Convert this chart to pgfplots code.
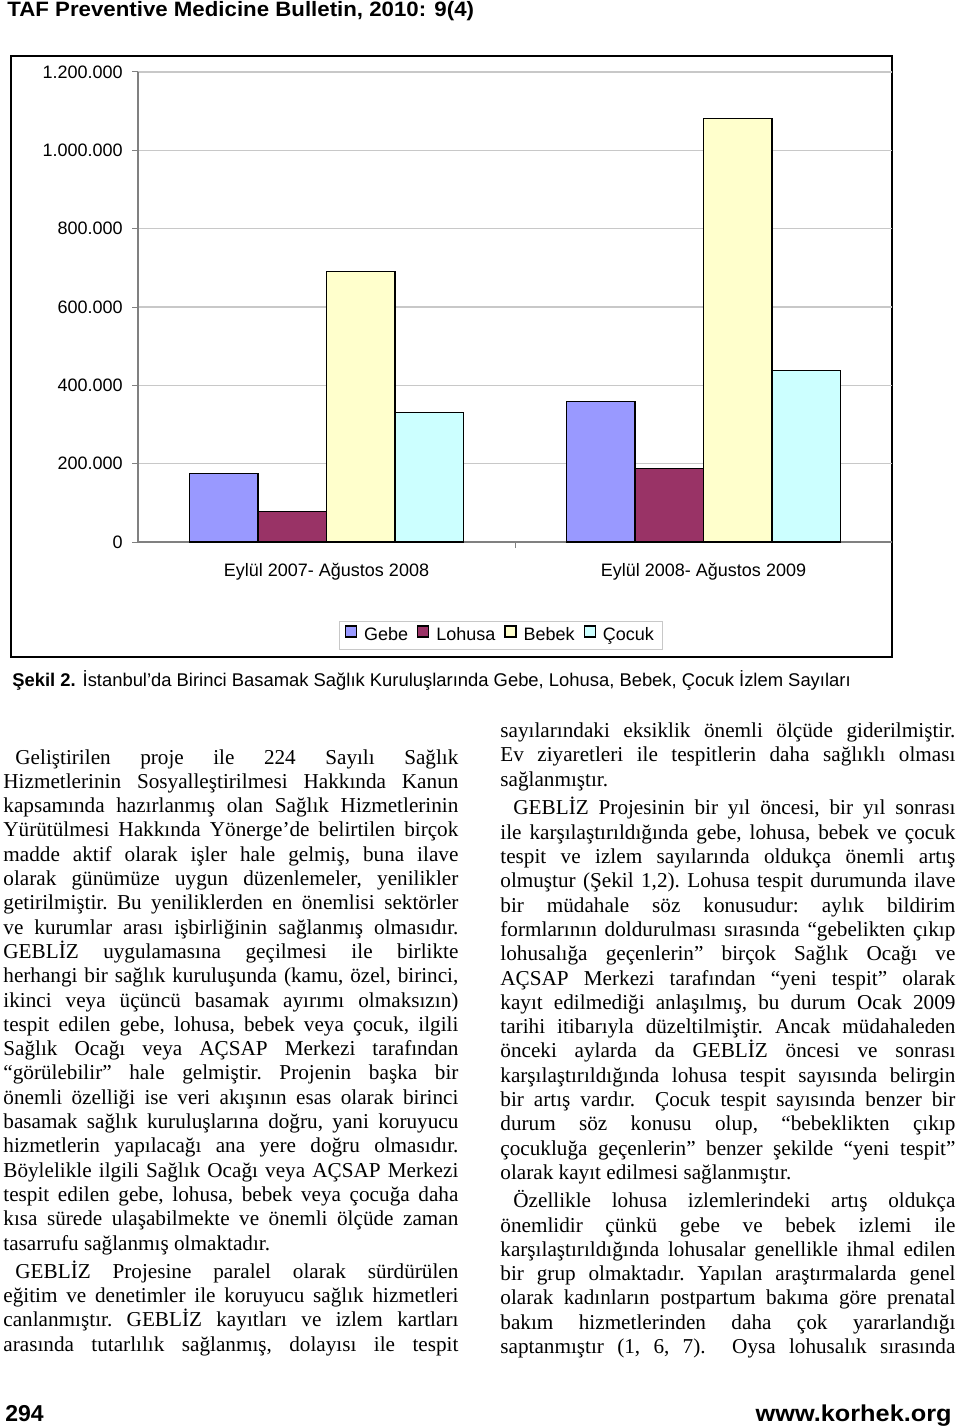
\documentclass[border=0pt]{standalone}
\usepackage{fontspec}
\setmainfont{Liberation Serif}
\newfontfamily\arial{Liberation Sans}
\usepackage{pgfplots}
\pgfplotsset{compat=1.18}

\newdimen\px \px=0.5pt
\definecolor{gebe}{HTML}{9999FF}
\definecolor{lohusa}{HTML}{993366}
\definecolor{bebek}{HTML}{FFFFCC}
\definecolor{cocuk}{HTML}{CCFFFF}
\definecolor{gridgray}{HTML}{C8C8C8}
\definecolor{axgray}{HTML}{808080}

\newcommand\body{\fontsize{10.6}{12}\selectfont\frenchspacing}
\newcommand\chartfont{\arial\fontsize{9}{10.8}\selectfont}
\newcommand\pitch{24.3}
% justified line: x, width, base, line index, text
\newcommand\J[5]{\node[anchor=base west,inner sep=0pt,font=\body] at (#1,{-(#3+(#4)*\pitch)}) {\makebox[#2\px][s]{#5}};}
% last line of a paragraph: x, base, line index, text
\newcommand\Rg[4]{\node[anchor=base west,inner sep=0pt,font=\body] at (#1,{-(#2+(#3)*\pitch)}) {#4};}

\begin{document}
\begin{tikzpicture}[x=0.5pt,y=0.5pt]
\path[use as bounding box] (0,0) rectangle (960,-1428);

% header
\node[anchor=base west,inner sep=0pt,font=\arial\bfseries\fontsize{10.4}{12}\selectfont] at (7,-17) {\scalebox{1.07}[1]{TAF Preventive Medicine Bulletin, 2010: 9(4)}};

% chart frame
\draw[line width=1.3\px] (11,-56) rectangle (892,-657);

\begin{axis}[
  at={(69pt,-271pt)}, anchor=south west,
  scale only axis, width=377pt, height=235pt,
  xmin=-0.5, xmax=1.5, ymin=0, ymax=1200000,
  axis x line*=bottom, axis y line*=left,
  axis line style={draw=axgray, line width=1.2\px, -},
  xtick={0,1},
  xticklabels={Eylül 2007- Ağustos 2008, Eylül 2008- Ağustos 2009},
  minor xtick={0.5},
  major x tick style={draw=none},
  minor x tick style={draw=axgray, line width=1\px},
  ytick={0,200000,400000,600000,800000,1000000,1200000},
  yticklabels={0,200.000,400.000,600.000,800.000,1.000.000,1.200.000},
  scaled y ticks=false,
  ymajorgrids,
  grid style={draw=gridgray, line width=1.2\px},
  major y tick style={draw=axgray, line width=1\px},
  tick align=outside, major tick length=6\px, minor tick length=6\px,
  tick label style={font=\chartfont},
  yticklabel style={anchor=east, inner sep=0pt, xshift=-9\px},
  xticklabel style={anchor=base, inner sep=0pt, yshift=-28\px},
  legend columns=4,
  legend style={at={(axis description cs:0.482,-0.198)}, anchor=center,
    draw=gridgray, line width=1\px, font=\chartfont,
    inner xsep=5\px, inner ysep=2\px,
    /tikz/every odd column/.append style={column sep=3\px},
    /tikz/every even column/.append style={column sep=5\px}},
  legend image code/.code={\draw[#1] (0pt,-1pt) rectangle (5.5pt,4.5pt);},
]
\addplot[ybar, bar width=0.1817, bar shift=-0.2725, fill=gebe, draw=black, line width=1.2\px]
  coordinates {(0,174000) (1,359000)};
\addplot[ybar, bar width=0.1817, bar shift=-0.0908, fill=lohusa, draw=black, line width=1.2\px]
  coordinates {(0,78000) (1,188000)};
\addplot[ybar, bar width=0.1817, bar shift=0.0908, fill=bebek, draw=black, line width=1.2\px]
  coordinates {(0,691000) (1,1082000)};
\addplot[ybar, bar width=0.1817, bar shift=0.2725, fill=cocuk, draw=black, line width=1.2\px]
  coordinates {(0,331000) (1,438000)};
\legend{Gebe, Lohusa, Bebek, Çocuk}
\end{axis}

% caption
\node[anchor=base west,inner sep=0pt,font=\arial\fontsize{9.2}{11}\selectfont] at (12,-686)
  {\textbf{Şekil 2.} İstanbul’da Birinci Basamak Sağlık Kuruluşlarında Gebe, Lohusa, Bebek, Çocuk İzlem Sayıları};

% left column
\J{15}{443}{764}{0}{Geliştirilen proje ile 224 Sayılı Sağlık}
\J{3}{455}{764}{1}{Hizmetlerinin Sosyalleştirilmesi Hakkında Kanun}
\J{3}{455}{764}{2}{kapsamında hazırlanmış olan Sağlık Hizmetlerinin}
\J{3}{455}{764}{3}{Yürütülmesi Hakkında Yönerge’de belirtilen birçok}
\J{3}{455}{764}{4}{madde aktif olarak işler hale gelmiş, buna ilave}
\J{3}{455}{764}{5}{olarak günümüze uygun düzenlemeler, yenilikler}
\J{3}{455}{764}{6}{getirilmiştir. Bu yeniliklerden en önemlisi sektörler}
\J{3}{455}{764}{7}{ve kurumlar arası işbirliğinin sağlanmış olmasıdır.}
\J{3}{455}{764}{8}{GEBLİZ uygulamasına geçilmesi ile birlikte}
\J{3}{455}{764}{9}{herhangi bir sağlık kuruluşunda (kamu, özel, birinci,}
\J{3}{455}{764}{10}{ikinci veya üçüncü basamak ayırımı olmaksızın)}
\J{3}{455}{764}{11}{tespit edilen gebe, lohusa, bebek veya çocuk, ilgili}
\J{3}{455}{764}{12}{Sağlık Ocağı veya AÇSAP Merkezi tarafından}
\J{3}{455}{764}{13}{“görülebilir” hale gelmiştir. Projenin başka bir}
\J{3}{455}{764}{14}{önemli özelliği ise veri akışının esas olarak birinci}
\J{3}{455}{764}{15}{basamak sağlık kuruluşlarına doğru, yani koruyucu}
\J{3}{455}{764}{16}{hizmetlerin yapılacağı ana yere doğru olmasıdır.}
\J{3}{455}{764}{17}{Böylelikle ilgili Sağlık Ocağı veya AÇSAP Merkezi}
\J{3}{455}{764}{18}{tespit edilen gebe, lohusa, bebek veya çocuğa daha}
\J{3}{455}{764}{19}{kısa sürede ulaşabilmekte ve önemli ölçüde zaman}
\Rg{3}{764}{20}{tasarrufu sağlanmış olmaktadır.}
\J{15}{443}{768}{21}{GEBLİZ Projesine paralel olarak sürdürülen}
\J{3}{455}{768}{22}{eğitim ve denetimler ile koruyucu sağlık hizmetleri}
\J{3}{455}{768}{23}{canlanmıştır. GEBLİZ kayıtları ve izlem kartları}
\J{3}{455}{768}{24}{arasında tutarlılık sağlanmış, dolayısı ile tespit}

% right column
\J{500}{455}{737.5}{0}{sayılarındaki eksiklik önemli ölçüde giderilmiştir.}
\J{500}{455}{737.5}{1}{Ev ziyaretleri ile tespitlerin daha sağlıklı olması}
\Rg{500}{737.5}{2}{sağlanmıştır.}
\J{513}{442}{742}{3}{GEBLİZ Projesinin bir yıl öncesi, bir yıl sonrası}
\J{500}{455}{742}{4}{ile karşılaştırıldığında gebe, lohusa, bebek ve çocuk}
\J{500}{455}{742}{5}{tespit ve izlem sayılarında oldukça önemli artış}
\J{500}{455}{742}{6}{olmuştur (Şekil 1,2). Lohusa tespit durumunda ilave}
\J{500}{455}{742}{7}{bir müdahale söz konusudur: aylık bildirim}
\J{500}{455}{742}{8}{formlarının doldurulması sırasında “gebelikten çıkıp}
\J{500}{455}{742}{9}{lohusalığa geçenlerin” birçok Sağlık Ocağı ve}
\J{500}{455}{742}{10}{AÇSAP Merkezi tarafından “yeni tespit” olarak}
\J{500}{455}{742}{11}{kayıt edilmediği anlaşılmış, bu durum Ocak 2009}
\J{500}{455}{742}{12}{tarihi itibarıyla düzeltilmiştir. Ancak müdahaleden}
\J{500}{455}{742}{13}{önceki aylarda da GEBLİZ öncesi ve sonrası}
\J{500}{455}{742}{14}{karşılaştırıldığında lohusa tespit sayısında belirgin}
\J{500}{455}{742}{15}{bir artış vardır.\ \ Çocuk tespit sayısında benzer bir}
\J{500}{455}{742}{16}{durum söz konusu olup, “bebeklikten çıkıp}
\J{500}{455}{742}{17}{çocukluğa geçenlerin” benzer şekilde “yeni tespit”}
\Rg{500}{742}{18}{olarak kayıt edilmesi sağlanmıştır.}
\J{513}{442}{746}{19}{Özellikle lohusa izlemlerindeki artış oldukça}
\J{500}{455}{746}{20}{önemlidir çünkü gebe ve bebek izlemi ile}
\J{500}{455}{746}{21}{karşılaştırıldığında lohusalar genellikle ihmal edilen}
\J{500}{455}{746}{22}{bir grup olmaktadır. Yapılan araştırmalarda genel}
\J{500}{455}{746}{23}{olarak kadınların postpartum bakıma göre prenatal}
\J{500}{455}{746}{24}{bakım hizmetlerinden daha çok yararlandığı}
\J{500}{455}{746}{25}{saptanmıştır (1, 6, 7).\ \ Oysa lohusalık sırasında}

% footer
\node[anchor=base west,inner sep=0pt,font=\arial\bfseries\fontsize{11.5}{13}\selectfont] at (5,-1421) {294};
\node[anchor=base east,inner sep=0pt,font=\arial\bfseries\fontsize{11.5}{13}\selectfont] at (952,-1421) {\scalebox{1.1}[1]{www.korhek.org}};
\end{tikzpicture}
\end{document}
